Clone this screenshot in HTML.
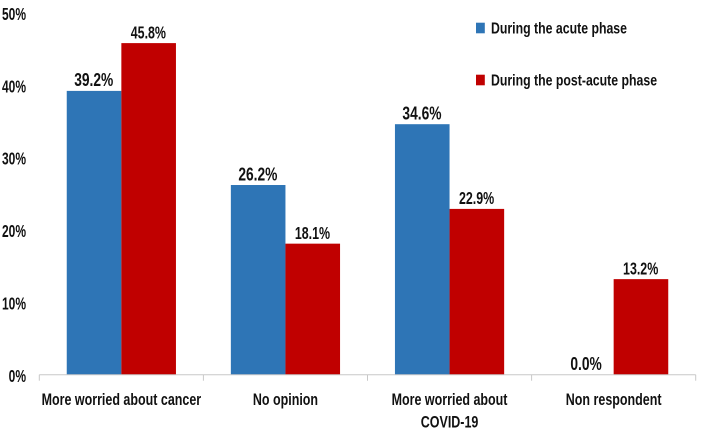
<!DOCTYPE html>
<html>
<head>
<meta charset="utf-8">
<title>Worry during acute and post-acute phases</title>
<style>
html,body{margin:0;padding:0;background:#fff;}
svg{display:block;}
text{font-family:"Liberation Sans",sans-serif;font-weight:bold;fill:#111;filter:blur(0.3px);}
</style>
</head>
<body>
<svg id="chart" width="709" height="435" viewBox="0 0 709 435" xmlns="http://www.w3.org/2000/svg">
<rect x="0" y="0" width="709" height="435" fill="#ffffff"/>
<g id="bars"></g>
<g id="axes"></g>
<g id="labels"></g>
<g id="legend"></g>
</svg>
<script>
const categories = [["More worried about cancer"], ["No opinion"], ["More worried about", "COVID-19"], ["Non respondent"]];
const acutePhase = [39.2, 26.2, 34.6, 0.0];
const postAcutePhase = [45.8, 18.1, 22.9, 13.2];
const yTicks = [0, 10, 20, 30, 40, 50];
const seriesNames = ["During the acute phase", "During the post-acute phase"];

const NS = "http://www.w3.org/2000/svg";
const plotLeft = 39.3, plotWidth = 656.4, baseY = 374.7, pxPerUnit = 7.24;
const barW = 54.6, colors = ["#2e75b6", "#c00000"];
const labelFontSizes = [18.5, 17.5];
const labelSqueeze = [0.745, 0.71];

function yScale(v) { return baseY - v * pxPerUnit; }
function catCenter(i) { return plotLeft + (i + 0.5) * plotWidth / categories.length; }

function addText(parent, str, x, y, size, anchor, squeeze) {
  const t = document.createElementNS(NS, "text");
  t.textContent = str;
  t.setAttribute("transform", "translate(" + x + "," + y + ") scale(" + squeeze + ",1)");
  t.setAttribute("font-size", size);
  t.setAttribute("text-anchor", anchor);
  parent.appendChild(t);
  return t;
}

const barsG = document.getElementById("bars");
const axesG = document.getElementById("axes");
const labelsG = document.getElementById("labels");
const legendG = document.getElementById("legend");

[acutePhase, postAcutePhase].forEach(function (series, s) {
  series.forEach(function (v, i) {
    const x = catCenter(i) + (s === 0 ? -barW : 0);
    const r = document.createElementNS(NS, "rect");
    
    
    r.setAttribute("x", x);
    r.setAttribute("y", yScale(v));
    r.setAttribute("width", barW);
    r.setAttribute("height", baseY - yScale(v));
    r.setAttribute("fill", colors[s]);
    barsG.appendChild(r);

    const lab = addText(labelsG, v.toFixed(1) + "%", x + barW / 2 - 0.3, yScale(v) - 4.7, labelFontSizes[s], "middle", labelSqueeze[s]);
    
    
  });
});

const axisLine = document.createElementNS(NS, "line");


axisLine.setAttribute("x1", plotLeft);
axisLine.setAttribute("x2", plotLeft + plotWidth);
axisLine.setAttribute("y1", baseY);
axisLine.setAttribute("y2", baseY);
axisLine.setAttribute("stroke", "#c8c8c8");
axisLine.setAttribute("stroke-width", "1");
axesG.insertBefore(axisLine, axesG.firstChild);

for (let i = 0; i <= categories.length; i++) {
  const tick = document.createElementNS(NS, "line");
  const tx = plotLeft + i * plotWidth / categories.length;
  
  
  tick.setAttribute("x1", tx);
  tick.setAttribute("x2", tx);
  tick.setAttribute("y1", baseY);
  tick.setAttribute("y2", baseY + 6);
  tick.setAttribute("stroke", "#c8c8c8");
  tick.setAttribute("stroke-width", "1");
  axesG.appendChild(tick);
}

yTicks.forEach(function (v) {
  const t = addText(axesG, v + "%", 26, yScale(v) + 7.2, 18, "end", 0.667);
  
  
});

categories.forEach(function (lines, i) {
  lines.forEach(function (line, k) {
    const t = addText(axesG, line, catCenter(i), 405.2 + k * 22.5, 17, "middle", 0.735);
    
    
  });
});

seriesNames.forEach(function (name, s) {
  const ly = 28 + s * 52;
  const sq = document.createElementNS(NS, "rect");
  
  
  sq.setAttribute("x", 476);
  sq.setAttribute("y", ly - 5.3);
  sq.setAttribute("width", 8.8);
  sq.setAttribute("height", 10.6);
  sq.setAttribute("fill", colors[s]);
  legendG.appendChild(sq);
  const t = addText(legendG, name, 491, ly + 5.7, 16, "start", 0.769);
  
  
});
</script>
</body>
</html>
